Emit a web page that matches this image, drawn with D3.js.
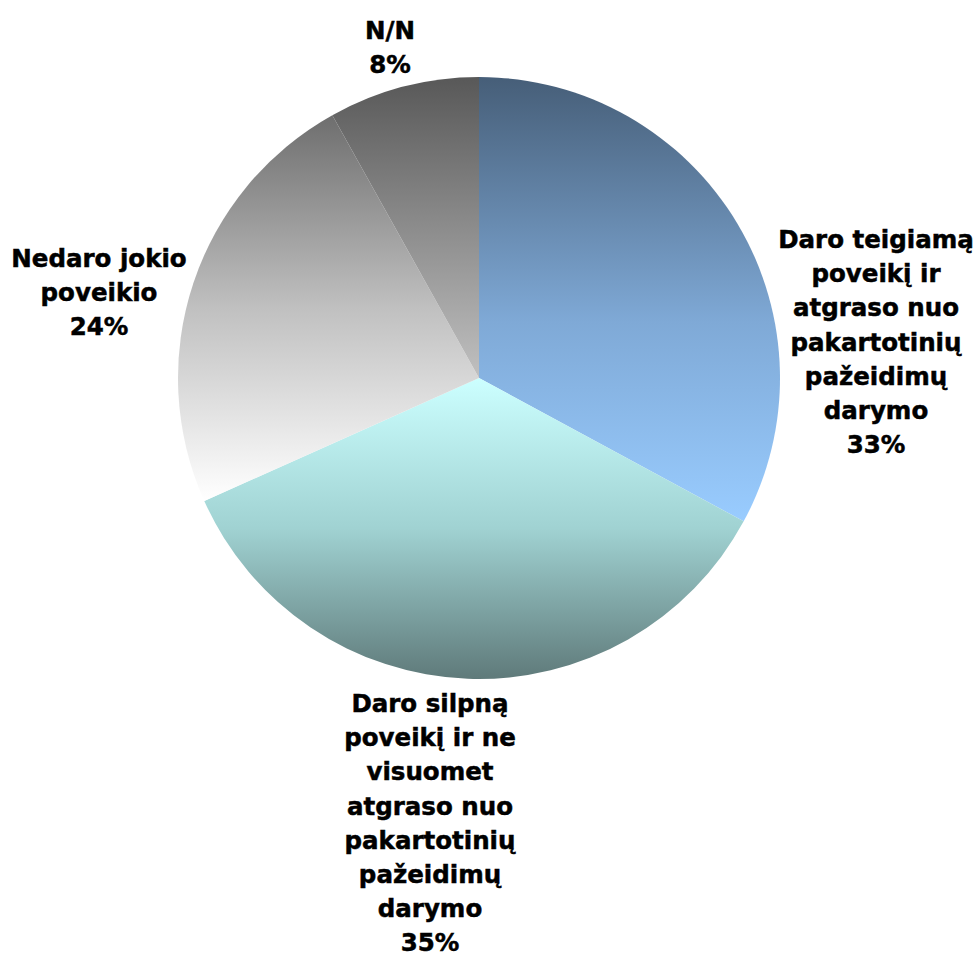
<!DOCTYPE html>
<html>
<head>
<meta charset="utf-8">
<script src="https://cdn.jsdelivr.net/npm/d3@7/dist/d3.min.js"></script>
<style>
  html, body { margin: 0; padding: 0; background: #ffffff; }
  svg { display: block; }
  text { font-family: "DejaVu Sans", Verdana, sans-serif; font-weight: bold; fill: #000; stroke: #000; stroke-width: 0.5px; }
</style>
</head>
<body>
<svg id="chart" width="978" height="956"></svg>
<script>
// ---- data ----
const categories = [
  "Daro teigiamą poveikį ir atgraso nuo pakartotinių pažeidimų darymo",
  "Daro silpną poveikį ir ne visuomet atgraso nuo pakartotinių pažeidimų darymo",
  "Nedaro jokio poveikio",
  "N/N"
];
const values = [32.9, 35.4, 23.6, 8.1];
const percentLabels = ["33%", "35%", "24%", "8%"];
const labelLines = [
  ["Daro teigiamą", "poveikį ir", "atgraso nuo", "pakartotinių", "pažeidimų", "darymo"],
  ["Daro silpną", "poveikį ir ne", "visuomet", "atgraso nuo", "pakartotinių", "pažeidimų", "darymo"],
  ["Nedaro jokio", "poveikio"],
  ["N/N"]
];

// ---- styles / layout ----
const gradientStops = [
  [["0", "#465e78"], ["0.55", "#7fa9d6"], ["1", "#99ccff"]],
  [["0", "#ccffff"], ["0.5", "#a0d2d2"], ["1", "#5f7a7a"]],
  [["0", "#6e6e6e"], ["0.5", "#c0c0c0"], ["1", "#ffffff"]],
  [["0", "#585858"], ["1", "#c0c0c0"]]
];
const cx = 479, cy = 378, radius = 301;
const fontSize = 24.5, lineH = 34.2;
// label block anchor: x center, first baseline
const labelPos = [
  {x: 876, y: 248},
  {x: 430, y: 712},
  {x: 99,  y: 267},
  {x: 390, y: 39}
];

const svg = d3.select("#chart");
const defs = svg.append("defs");
gradientStops.forEach((stops, i) => {
  const g = defs.append("linearGradient")
    .attr("id", "grad" + i)
    .attr("x1", 0).attr("y1", 0).attr("x2", 0).attr("y2", 1);
  stops.forEach(s => g.append("stop").attr("offset", s[0]).attr("stop-color", s[1]));
});

const pie = d3.pie().sort(null).value(d => d);
const arcs = pie(values);
const arc = d3.arc().innerRadius(0).outerRadius(radius);

const g = svg.append("g").attr("transform", `translate(${cx},${cy})`);
g.selectAll("path.slice")
  .data(arcs)
  .join("path")
  .attr("class", "slice")
  .attr("d", arc)
  .attr("fill", (d, i) => `url(#grad${i})`);

// labels
arcs.forEach((d, i) => {
  const lines = labelLines[i].concat([percentLabels[i]]);
  const t = svg.append("text")
    .attr("text-anchor", "middle")
    .attr("font-size", fontSize);
  lines.forEach((ln, j) => {
    t.append("tspan")
      .attr("x", labelPos[i].x)
      .attr("y", labelPos[i].y + j * lineH)
      .text(ln);
  });
});
</script>
</body>
</html>
